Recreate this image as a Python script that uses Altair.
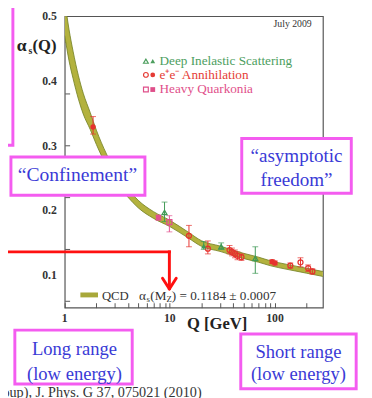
import altair as alt
import pandas as pd

# ---- QCD running-coupling band ----
curve_q = [1.0, 1.1, 1.2, 1.35, 1.5, 1.75, 2.0, 2.5, 3.0, 4.0, 5.0, 7.0, 10, 15, 20, 30, 50, 70, 91.2, 130, 200, 286]
curve_a = [0.497, 0.455, 0.425, 0.39, 0.365, 0.338, 0.313, 0.278, 0.254, 0.227, 0.210, 0.193, 0.180, 0.162, 0.149, 0.141, 0.130, 0.124, 0.1184, 0.113, 0.107, 0.102]
curve_hw = [0.027, 0.024, 0.021, 0.018, 0.016, 0.013, 0.011, 0.009, 0.0078, 0.0065, 0.0058, 0.0052, 0.0048, 0.0045, 0.0043, 0.0041, 0.004, 0.0039, 0.0038, 0.0038, 0.0038, 0.0038]

# ---- measurements ----
dis_q = [8.9, 21, 30.8, 65]
dis_a = [0.197, 0.145, 0.144, 0.126]
dis_lo = [0.183, 0.140, 0.140, 0.103]
dis_hi = [0.213, 0.152, 0.150, 0.144]
dis_filled = [False, True, False, False]

ee_q = [1.86, 15.2, 23, 37, 39, 41.6, 44, 48, 94, 100, 140, 175, 207, 227]
ee_a = [0.329, 0.161, 0.141, 0.139, 0.136, 0.133, 0.130, 0.128, 0.121, 0.119, 0.115, 0.120, 0.111, 0.106]
ee_lo = [0.318, 0.144, 0.133, 0.133, 0.130, 0.127, 0.124, 0.123, 0.118, 0.116, 0.111, 0.113, 0.106, 0.102]
ee_hi = [0.345, 0.177, 0.153, 0.146, 0.142, 0.139, 0.136, 0.133, 0.124, 0.122, 0.119, 0.127, 0.116, 0.110]
ee_filled = [True, False, False, False, False, False, False, False, True, True, False, False, False, False]

hq_q = [7.8, 9.9]
hq_a = [0.189, 0.182]
hq_lo = [0.185, 0.167]
hq_hi = [0.193, 0.192]
hq_filled = [True, False]

groups = ["DIS", "ee", "HQ"]
group_colors = ["#3f9a55", "#e6322e", "#e2508e"]
group_shapes = ["triangle-up", "circle", "square"]

x_ticks = [1, 2, 3, 4, 5, 6, 7, 8, 9, 10, 20, 30, 40, 50, 60, 70, 80, 90, 100, 200]
x_labels = [1, 10, 100]
y_ticks = [0.06, 0.08, 0.1, 0.12, 0.14, 0.16, 0.18, 0.2, 0.22, 0.24, 0.26, 0.28, 0.3,
           0.32, 0.34, 0.36, 0.38, 0.4, 0.42, 0.44, 0.46, 0.48, 0.5]
y_labels = [0.1, 0.2, 0.3, 0.4, 0.5]

SERIF = "Liberation Serif"
MAGENTA = "#f45cf0"
BLUE = "#3a3ad6"

cdf = pd.DataFrame({
    "Q": curve_q, "a": curve_a,
    "lo": [a - h for a, h in zip(curve_a, curve_hw)],
    "hi": [a + h for a, h in zip(curve_a, curve_hw)],
})

rows = []
for g, qs, as_, los, his, fs in [("DIS", dis_q, dis_a, dis_lo, dis_hi, dis_filled),
                                  ("ee", ee_q, ee_a, ee_lo, ee_hi, ee_filled),
                                  ("HQ", hq_q, hq_a, hq_lo, hq_hi, hq_filled)]:
    for q, a, lo, hi, f in zip(qs, as_, los, his, fs):
        rows.append({"Q": q, "a": a, "lo": lo, "hi": hi, "grp": g, "filled": f})
pts = pd.DataFrame(rows)

x_scale = alt.Scale(type="log", domain=[1, 286], nice=False)
y_scale = alt.Scale(domain=[0.05, 0.5], nice=False, zero=False)
col = alt.Color("grp:N", scale=alt.Scale(domain=groups, range=group_colors), legend=None)
shp = alt.Shape("grp:N", scale=alt.Scale(domain=groups, range=group_shapes), legend=None)

x_axis = alt.Axis(values=x_ticks, title=None, grid=False, domain=False, labels=False,
                  tickSize=alt.ExprRef(expr="-5"), tickColor="#555")
y_axis = alt.Axis(values=y_ticks, title=None, grid=False, domain=False, labels=False,
                  tickSize=alt.ExprRef(expr="-5"), tickColor="#555")

X = alt.X("Q:Q", scale=x_scale)
band = alt.Chart(cdf).mark_area(color="#b3b23e", interpolate="monotone", clip=True).encode(
    x=alt.X("Q:Q", scale=x_scale, axis=x_axis),
    y=alt.Y("lo:Q", scale=y_scale, axis=y_axis), y2="hi:Q")
edge_lo = alt.Chart(cdf).mark_line(color="#7a862a", strokeWidth=0.9, interpolate="monotone", clip=True).encode(
    x=X, y=alt.Y("lo:Q", scale=y_scale))
edge_hi = alt.Chart(cdf).mark_line(color="#7a862a", strokeWidth=0.9, interpolate="monotone", clip=True).encode(
    x=X, y=alt.Y("hi:Q", scale=y_scale))

ebar = alt.Chart(pts).mark_rule(strokeWidth=1).encode(x=X, y=alt.Y("lo:Q", scale=y_scale), y2="hi:Q", color=col)
cap_lo = alt.Chart(pts).mark_tick(orient="horizontal", size=6, thickness=1).encode(x=X, y=alt.Y("lo:Q", scale=y_scale), color=col)
cap_hi = alt.Chart(pts).mark_tick(orient="horizontal", size=6, thickness=1).encode(x=X, y=alt.Y("hi:Q", scale=y_scale), color=col)
p_open = alt.Chart(pts).transform_filter("!datum.filled").mark_point(filled=False, size=26, strokeWidth=1.3, opacity=1).encode(
    x=X, y=alt.Y("a:Q", scale=y_scale), color=col, shape=shp)
p_fill = alt.Chart(pts).transform_filter("datum.filled").mark_point(filled=True, size=30, opacity=1).encode(
    x=X, y=alt.Y("a:Q", scale=y_scale), color=col, shape=shp)

# tick labels through the scales
ylab = alt.Chart(pd.DataFrame({"v": y_labels})).mark_text(
    font=SERIF, fontWeight="bold", fontSize=12, color="#333", align="right", baseline="middle").encode(
    y=alt.Y("v:Q", scale=y_scale), x=alt.value(-8), text=alt.Text("v:Q", format=".1f"))
xlab = alt.Chart(pd.DataFrame({"v": x_labels})).mark_text(
    font=SERIF, fontWeight="bold", fontSize=12, color="#333", align="center", baseline="middle").encode(
    x=alt.X("v:Q", scale=x_scale), y=alt.value(309), text=alt.Text("v:Q", format="d"))

one = pd.DataFrame({"k": [0]})


def txt(s, x, y, size, color, weight="normal", align="left", baseline="middle"):
    return alt.Chart(one).mark_text(text=s, fontSize=size, font=SERIF, fontWeight=weight,
                                    align=align, baseline=baseline, color=color).encode(
        x=alt.value(x), y=alt.value(y))


def seg(x1, y1, x2, y2, color, width, cap="butt"):
    return alt.Chart(one).mark_rule(color=color, strokeWidth=width, strokeCap=cap).encode(
        x=alt.value(x1), y=alt.value(y1), x2=alt.value(x2), y2=alt.value(y2))


def box(x1, y1, x2, y2):
    return alt.Chart(one).mark_rect(fill="white", stroke=MAGENTA, strokeWidth=3).encode(
        x=alt.value(x1), y=alt.value(y1), x2=alt.value(x2), y2=alt.value(y2))


def sym(x, y, shape, color, filled):
    return alt.Chart(one).mark_point(shape=shape, filled=filled, size=24, strokeWidth=1.2,
                                     color=color, opacity=1).encode(x=alt.value(x), y=alt.value(y))


layers = [band, edge_lo, edge_hi, ebar, cap_lo, cap_hi, p_open, p_fill, ylab, xlab]

# in-plot legend
layers += [txt("July 2009", 233, 8, 10, "#333", align="center")]
leg = [("Deep Inelastic Scattering", 46, "triangle-up", "#4c9e5e"),
       ("e\u207ae\u207b Annihilation", 60, "circle", "#e53b35"),
       ("Heavy Quarkonia", 75, "square", "#df4f8a")]
for label, yy, shape, c in leg:
    layers += [sym(83, yy, shape, c, False), sym(90, yy, shape, c, True),
               txt(label, 97, yy, 13.5, c)]

# QCD legend
layers += [seg(16, 285, 34, 285, "#a8a83a", 5),
           txt("QCD", 38, 286, 13, "#333"),
           txt("\u03b1", 76, 286, 13.5, "#333"),
           txt("s", 83.5, 289, 9, "#333"),
           txt("(M", 87.5, 286, 13.5, "#333"),
           txt("Z", 104, 289, 9, "#333"),
           txt(") = 0.1184 \u00b1 0.0007", 109.5, 286, 13.5, "#333")]

# axis titles
layers += [txt("\u03b1", -49, 31, 18, "#222", weight="bold"),
           txt("s", -37, 36, 10, "#222", weight="bold"),
           txt("(Q)", -33, 31, 17, "#222", weight="bold"),
           txt("Q [GeV]", 125, 315, 17, "#222", weight="bold")]

# annotation boxes
layers += [box(-80, -20, -53, 132),
           box(-55, 144, 82, 183), txt("\u201cConfinement\u201d", 13, 163, 20, BLUE, align="center"),
           box(181, 125, 293, 181),
           txt("\u201casymptotic", 237, 143, 19.5, BLUE, align="center"),
           txt("freedom\u201d", 237, 168, 19.5, BLUE, align="center"),
           box(-51, 321, 69, 376),
           txt("Long range", 10, 340, 19, BLUE, align="center"),
           txt("(low energy)", 10, 366, 19, BLUE, align="center"),
           box(180, 325, 298, 381),
           txt("Short range", 239, 343, 19, BLUE, align="center"),
           txt("(low energy)", 239, 366, 19, BLUE, align="center")]

# red arrow
RED = "#ff1010"
layers += [seg(-70, 241, 107, 241, RED, 3, "square"),
           seg(107, 241, 107, 278, RED, 3, "square"),
           seg(100, 268, 107, 279, RED, 3, "round"),
           seg(114, 268, 107, 279, RED, 3, "round")]

# citation (cut off at the bottom, as in the original)
layers += [txt("Group), J. Phys. G 37, 075021 (2010)", 140, 389, 14.5, "#333", align="right", baseline="alphabetic")]

chart = alt.layer(*layers).properties(
    width=264, height=298, autosize="none",
    padding={"left": 58, "top": 4, "right": 42, "bottom": 88},
).configure_view(stroke="#555", strokeWidth=1.2)

chart.save("out.html", embed_options={"renderer": "svg", "actions": False})
